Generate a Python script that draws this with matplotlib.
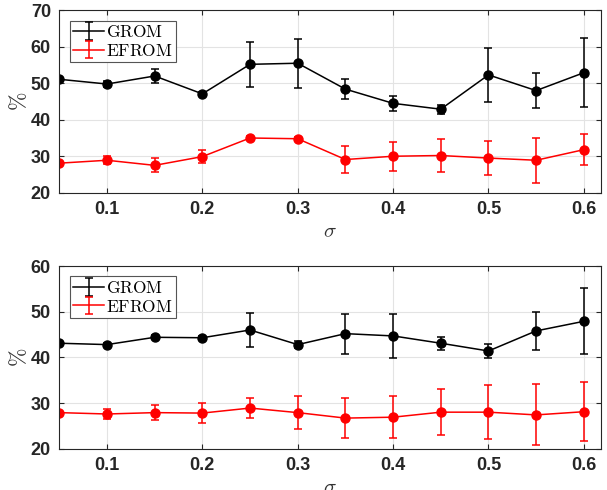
import numpy as np
import matplotlib
matplotlib.use("Agg")
import matplotlib.pyplot as plt

sigma = [0.05, 0.10, 0.15, 0.20, 0.25, 0.30, 0.35, 0.40, 0.45, 0.50, 0.55, 0.60]

# top panel
grom_top = [51.1, 49.8, 52.0, 47.1, 55.2, 55.5, 48.4, 44.5, 42.9, 52.3, 48.0, 52.9]
grom_top_err = [0.5, 0.7, 1.8, 0.6, 6.1, 6.7, 2.7, 2.0, 1.2, 7.4, 4.9, 9.4]
efrom_top = [28.1, 28.9, 27.5, 29.9, 35.0, 34.8, 29.1, 30.0, 30.2, 29.5, 28.9, 31.8]
efrom_top_err = [0.5, 1.1, 1.9, 1.7, 0.5, 0.6, 3.8, 4.0, 4.5, 4.7, 6.2, 4.2]

# bottom panel
grom_bot = [43.1, 42.8, 44.4, 44.3, 46.0, 42.8, 45.2, 44.7, 43.1, 41.4, 45.8, 47.9]
grom_bot_err = [0.4, 0.4, 0.4, 0.4, 3.8, 0.7, 4.4, 4.9, 1.4, 1.5, 4.1, 7.2]
efrom_bot = [27.9, 27.6, 27.9, 27.8, 28.9, 27.9, 26.7, 26.9, 28.0, 28.0, 27.4, 28.1]
efrom_bot_err = [0.3, 1.05, 1.6, 2.15, 2.1, 3.6, 4.4, 4.6, 5.1, 5.9, 6.7, 6.5]

xticks = [0.1, 0.2, 0.3, 0.4, 0.5, 0.6]

plt.rcParams['mathtext.fontset'] = 'cm'
plt.rcParams['font.family'] = 'Liberation Sans'

fig = plt.figure(figsize=(6.07, 4.9), dpi=100)
ax1 = fig.add_axes([0.0977, 0.6067, 0.8924, 0.3722])
ax2 = fig.add_axes([0.0977, 0.0843, 0.8924, 0.3727])

panels = [
    (ax1, grom_top, grom_top_err, efrom_top, efrom_top_err, (20, 70), [20, 30, 40, 50, 60, 70]),
    (ax2, grom_bot, grom_bot_err, efrom_bot, efrom_bot_err, (20, 60), [20, 30, 40, 50, 60]),
]

for ax, g, ge, e, ee, ylim, yt in panels:
    # lines + error bars (legend shows these, no marker)
    ax.errorbar(sigma, g, yerr=ge, color='black', lw=1.1,
                elinewidth=1.1, capsize=3, capthick=1.1, label=r'$\mathrm{GROM}$')
    ax.errorbar(sigma, e, yerr=ee, color='#ff0000', lw=1.1,
                elinewidth=1.1, capsize=3, capthick=1.1, label=r'$\mathrm{EFROM}$')
    ax.plot(sigma, g, 'o', color='black', ms=6.5)
    ax.plot(sigma, e, 'o', color='#ff0000', ms=6.5)
    ax.set_xlim(0.05, 0.618)
    ax.set_ylim(*ylim)
    ax.set_xticks(xticks)
    ax.set_xticklabels(['0.1', '0.2', '0.3', '0.4', '0.5', '0.6'])
    ax.set_yticks(yt)
    ax.grid(True, color='#e3e3e3', lw=0.8)
    ax.set_axisbelow(True)
    ax.tick_params(direction='in', length=3.5, width=0.8, top=True, right=True,
                   labelsize=13, colors='#262626', pad=6)
    for lab in ax.get_xticklabels() + ax.get_yticklabels():
        lab.set_fontweight('bold')
    for sp in ax.spines.values():
        sp.set_color('#262626')
        sp.set_linewidth(0.8)
    ax.set_xlabel(r'$\sigma$', fontsize=15, labelpad=3, color='#333333')
    ax.set_ylabel(r'$\%$', fontsize=16, labelpad=0, color='#333333')
    leg = ax.legend(loc='upper left', fontsize=12.5,
                    fancybox=False, framealpha=1, edgecolor='#555555',
                    borderaxespad=0.6, handlelength=1.8, handletextpad=0.1,
                    labelspacing=0.15, borderpad=0.2)
    leg.get_frame().set_linewidth(0.8)

fig.savefig('out.png', dpi=100)
